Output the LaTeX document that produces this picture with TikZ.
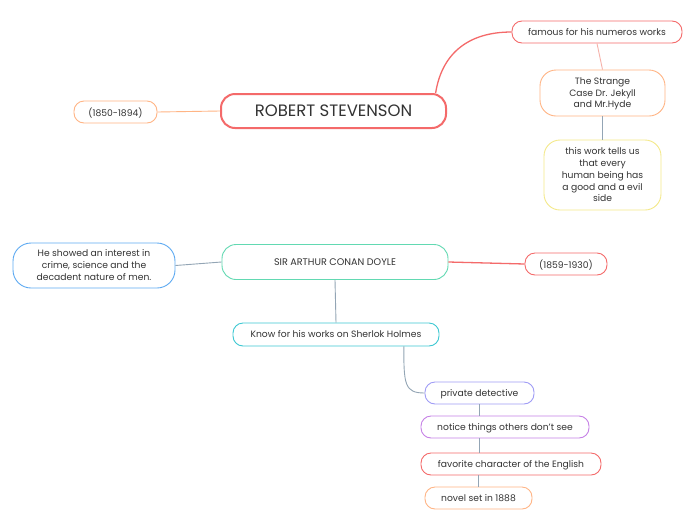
\documentclass[tikz,border=0pt]{standalone}
\usepackage{fontspec}
\setmainfont{Poppins}
\usepackage{xcolor}
\usetikzlibrary{positioning}
\definecolor{mmred}{HTML}{F46A6A}
\definecolor{mmpink}{HTML}{F6B2AA}
\definecolor{mmorange}{HTML}{FFB585}
\definecolor{mmyellow}{HTML}{F4E98A}
\definecolor{mmteal}{HTML}{62D9B2}
\definecolor{mmblue}{HTML}{5EAAF2}
\definecolor{mmcyan}{HTML}{3DC8D2}
\definecolor{mmviolet}{HTML}{9F9CF6}
\definecolor{mmpurple}{HTML}{C681E6}
\definecolor{mmgray}{HTML}{93A5B5}
\definecolor{mmtext}{HTML}{333333}

\begin{document}
\begin{tikzpicture}[x=1pt,y=-1pt,
  box/.style={draw=#1,fill=white,line width=0.9pt,rounded corners=10pt,
    align=center,inner sep=0pt,text=mmtext,text depth=0.6pt,font=\fontsize{9.2}{11.8}\selectfont},
  link/.style={draw=#1,line width=0.9pt}]
  \useasboundingbox[fill=white] (0,0) rectangle (696,520);
  % Stevenson
  \node[box=mmred,line width=2pt,rounded corners=14pt,minimum width=225,minimum height=34,
    font=\fontsize{16.5}{19}\selectfont] (robert) at (333.5,111) {ROBERT STEVENSON};
  \node[box=mmorange,minimum width=83,minimum height=22] (born) at (115.5,112) {(1850-1894)};
  \node[box=mmred,minimum width=170,minimum height=22] (famous) at (597,32) {famous for his numeros works};
  \node[box=mmorange,rounded corners=16pt,minimum width=125,minimum height=46] (jekyll) at (602.5,93)
    {The Strange\\Case Dr. Jekyll\\ and Mr.Hyde};
  \node[box=mmyellow,rounded corners=16pt,minimum width=117,minimum height=70] (side) at (602.5,175)
    {this work tells us\\that every\\human being has\\a good and a evil\\side};
  \draw[link=mmorange] (born.east) -- (robert.west);
  \draw[link=mmred,line width=1.3pt] (robert.10) .. controls +(6,-38) and +(-45,0) .. (famous.west);
  \draw[link=mmpink] (famous.south) -- (jekyll.north);
  \draw[link=mmgray] (jekyll.south) -- (side.north);
  % Conan Doyle
  \node[box=mmteal,rounded corners=14pt,minimum width=226,minimum height=35,
    font=\fontsize{9.6}{11}\selectfont] (doyle) at (335,262) {SIR ARTHUR CONAN DOYLE};
  \node[box=mmblue,rounded corners=18pt,minimum width=162,minimum height=45] (interest) at (94,265.5)
    {He showed an interest in\\crime, science and the\\decadent nature of men.};
  \node[box=mmred,minimum width=82,minimum height=22] (died) at (566,264) {(1859-1930)};
  \node[box=mmcyan,minimum width=206,minimum height=23] (holmes) at (336,334.5) {Know for his works on Sherlok Holmes};
  \node[box=mmviolet,minimum width=109,minimum height=22] (detective) at (479.5,393) {private detective};
  \node[box=mmpurple,minimum width=168,minimum height=22] (notice) at (505,427) {notice things others don't see};
  \node[box=mmred,minimum width=180,minimum height=22] (english) at (511,464) {favorite character of the English};
  \node[box=mmorange,minimum width=107,minimum height=22] (novel) at (478.5,498) {novel set in 1888};
  \draw[link=mmgray] (interest.east) -- (doyle.west);
  \draw[link=mmred,line width=1.3pt] (doyle.east) -- (died.west);
  \draw[link=mmgray] (doyle.south) -- (holmes.north);
  \draw[link=mmgray] (holmes.-10) .. controls +(0,38) and +(-20,0) .. (detective.west);
  \draw[link=mmgray] (detective.south) -- (detective.south |- notice.north);
  \draw[link=mmgray] (notice.south -| detective.south) -- (english.north -| detective.south);
  \draw[link=mmgray] (novel.north) -- (novel.north |- english.south);
\end{tikzpicture}
\end{document}
